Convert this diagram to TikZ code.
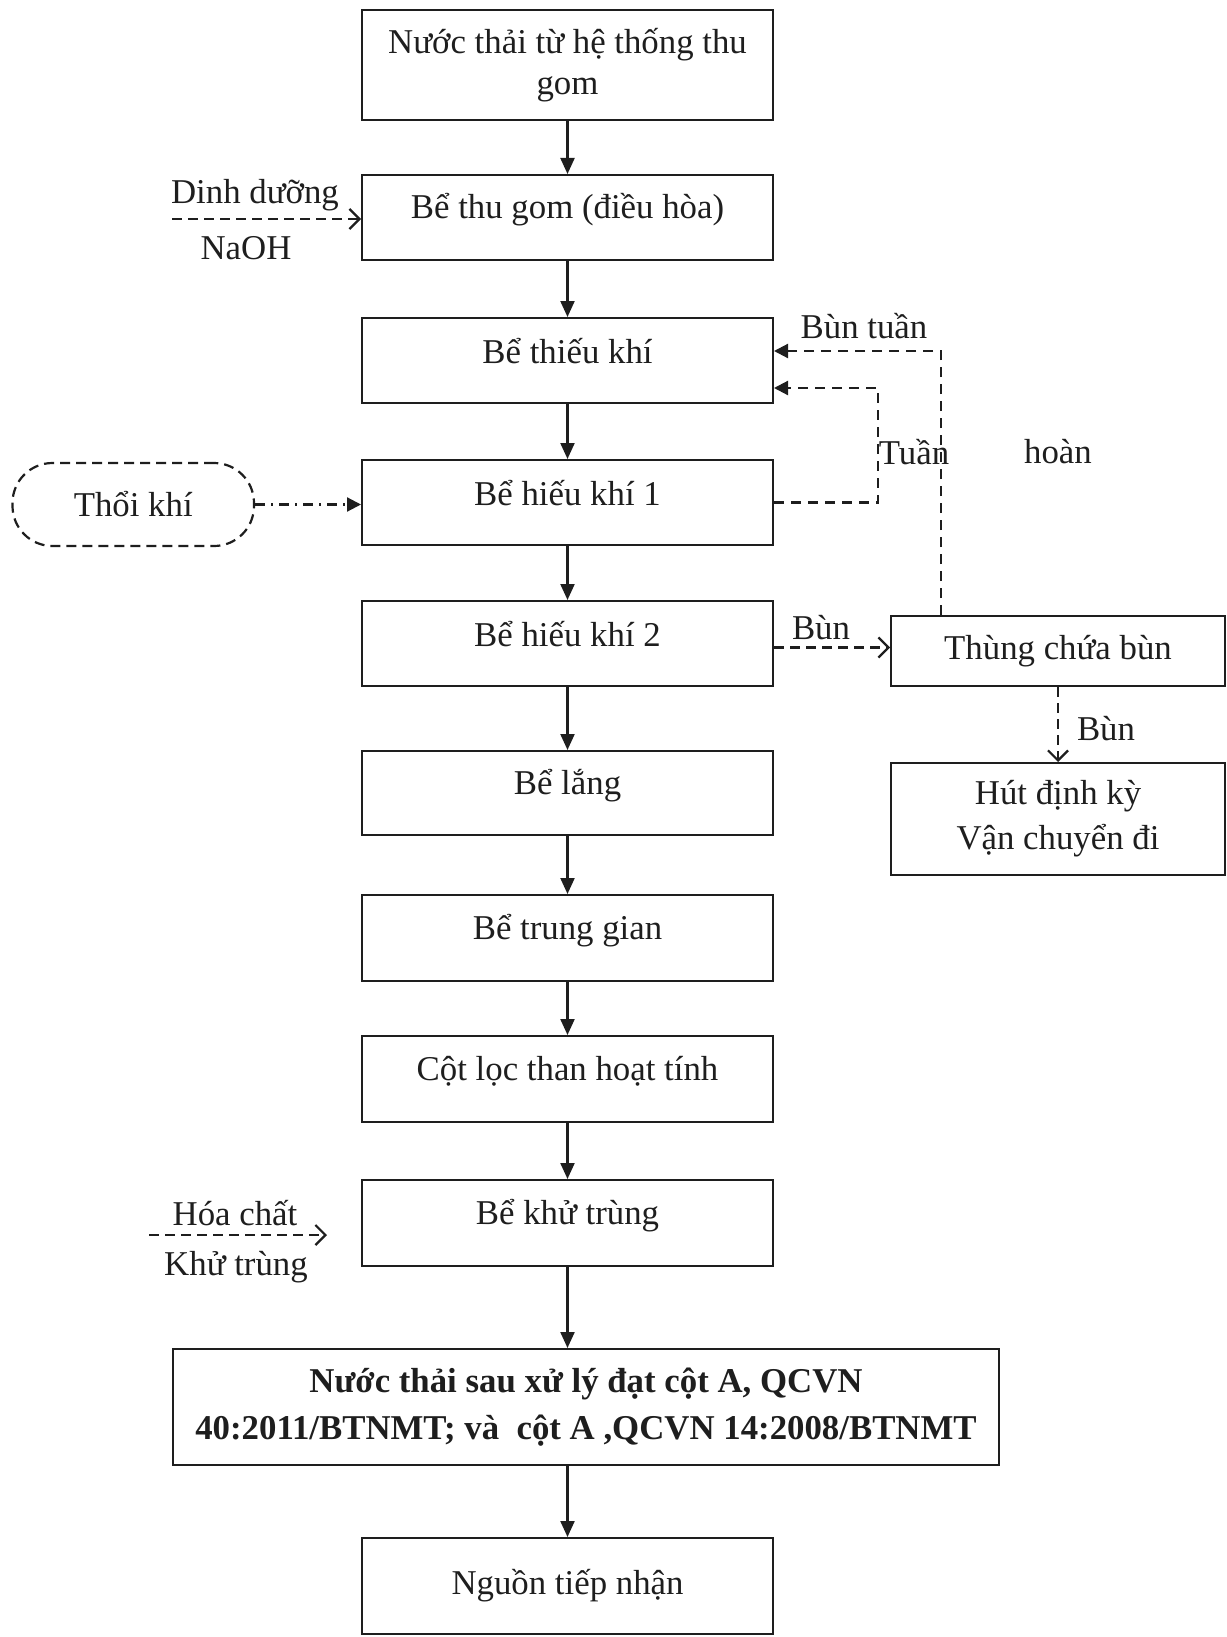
\documentclass[tikz,border=0pt]{standalone}
\usepackage{fontspec}
\setmainfont{Liberation Serif}
\usetikzlibrary{arrows.meta,calc}
\definecolor{ink}{RGB}{30,30,30}
\begin{document}
\begin{tikzpicture}[x=0.5pt,y=-0.5pt,
  box/.style={draw=ink, line width=1pt, inner sep=0pt, minimum width=205.5pt, minimum height=42.5pt},
  txt/.style={font=\fontsize{17.4pt}{21pt}\selectfont, text=ink, inner sep=0pt, align=center},
  flow/.style={draw=ink, line width=1.1pt, -{Triangle[length=8pt,width=7pt]}},
  feed/.style={draw=ink, line width=1.2pt, dash pattern=on 5pt off 3pt, -{Straight Barb[length=5pt,width=10pt,line width=1.1pt]}},
  recirc/.style={draw=ink, line width=1.1pt, dash pattern=on 5pt off 3.5pt, -{Triangle[length=7pt,width=7pt]}},
  air/.style={draw=ink, line width=1.1pt, dash pattern=on 5pt off 3pt on 1pt off 3pt, -{Triangle[length=7pt,width=7pt]}}]
\useasboundingbox (0,0) rectangle (1226,1637);

% main column
\node[box, minimum height=55pt, txt, font=\fontsize{17.4pt}{20.5pt}\selectfont] (b1) at (567.5,65) {Nước thải từ hệ thống thu\\gom};
\node[box] (b2) at (567.5,217.5) {};
\node[txt] (t2) at ([yshift=4pt]b2.center) {Bể thu gom (điều hòa)};
\node[box] (b3) at (567.5,360.5) {};
\node[txt] (t3) at ([yshift=4.5pt]b3.center) {Bể thiếu khí};
\node[box] (b4) at (567.5,502.5) {};
\node[txt] (t4) at ([yshift=4.5pt]b4.center) {Bể hiếu khí 1};
\node[box] (b5) at (567.5,643.5) {};
\node[txt] (t5) at ([yshift=4.5pt]b5.center) {Bể hiếu khí 2};
\node[box, minimum height=42pt] (b6) at (567.5,793) {};
\node[txt] (t6) at ([yshift=3.5pt]b6.center) {Bể lắng};
\node[box, minimum height=43pt] (b7) at (567.5,938) {};
\node[txt] (t7) at ([yshift=3.5pt]b7.center) {Bể trung gian};
\node[box, minimum height=43pt] (b8) at (567.5,1079) {};
\node[txt] (t8) at ([yshift=4pt]b8.center) {Cột lọc than hoạt tính};
\node[box, minimum height=43pt] (b9) at (567.5,1223) {};
\node[txt] (t9) at ([yshift=3.5pt]b9.center) {Bể khử trùng};
\node[box, minimum width=413pt, minimum height=58pt, txt, font=\fontsize{17.4pt}{23.5pt}\selectfont\bfseries] (b10) at (586,1407) {Nước thải sau xử lý đạt cột A, QCVN\\40:2011/BTNMT; và\ \ cột A ,QCVN 14:2008/BTNMT};
\node[box, minimum height=48pt, txt] (b11) at (567.5,1586) {Nguồn tiếp nhận};

% right side
\node[box, minimum width=167pt, minimum height=35pt, txt] (thung) at (1058,651) {Thùng chứa bùn};
\node[box, minimum width=167pt, minimum height=56pt, txt, font=\fontsize{17.4pt}{22.5pt}\selectfont] (hut) at (1058,819) {Hút định kỳ\\Vận chuyển đi};

% left side
\node[draw=ink, line width=1.1pt, dash pattern=on 5pt off 3pt, rounded corners=20pt, minimum width=120.75pt, minimum height=41.5pt, txt] (thoi) at (133.25,504.5) {Thổi khí};

% main flow
\foreach \a/\b in {b1/b2,b2/b3,b3/b4,b4/b5,b5/b6,b6/b7,b7/b8,b8/b9}{
  \draw[flow] (\a.south) -- (\b.north);
}
\draw[flow] (b9.south) -- (b9.south |- b10.north);
\draw[flow] (b10.south -| b11.north) -- (b11.north);

% feeds
\coordinate (dd) at (172,219);
\draw[feed] (dd) -- (dd -| b2.west);
\node[txt] (tdd) at (255,195) {Dinh dưỡng};
\node[txt] (tna) at (246,248) {NaOH};

\coordinate (hc) at (149,1235);
\coordinate (hcend) at (327,1235);
\draw[feed] (hc) -- (hcend);
\node[txt] (thc) at (235,1213) {Hóa chất};
\node[txt] (tkt) at (236,1267) {Khử trùng};

\draw[air] (thoi.east) -- (thoi.east -| b4.west);

% sludge
\coordinate (s1) at ([yshift=-2pt]b5.east);
\draw[feed] (s1) -- (s1 -| thung.west);
\node[txt] (lb1) at (821,628) {Bùn};
\draw[feed] (thung.south) -- (hut.north);
\node[txt] (lb2) at (1106,729) {Bùn};

% recirculation
\coordinate (r1) at (941,351);
\draw[recirc] (thung.north -| r1) -- (r1) -- (r1 -| b3.east);
\coordinate (r2) at (878,388);
\draw[recirc] (b4.east) -| (r2) -- (r2 -| b3.east);
\node[txt] (lbt) at (864,326) {Bùn tuần};
\node[txt] (lt1) at (914,452) {Tuần};
\node[txt] (lt2) at (1058,452) {hoàn};
\end{tikzpicture}
\end{document}
